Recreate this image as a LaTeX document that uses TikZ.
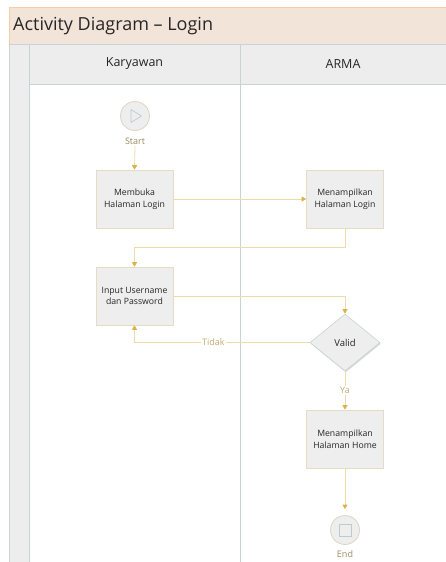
\documentclass[tikz,border=0pt]{standalone}
\usepackage{fontspec}
\setmainfont{Open Sans}
\usetikzlibrary{arrows.meta,shapes.geometric,shadows}

\definecolor{titlefill}{HTML}{F3E4DA}
\definecolor{titleline}{HTML}{F4CDA3}
\definecolor{headfill}{HTML}{EDEDED}
\definecolor{laneline}{HTML}{C9D3D3}
\definecolor{boxfill}{HTML}{EEEEEE}
\definecolor{boxline}{HTML}{E4DCC4}
\definecolor{flowline}{HTML}{EEDCA8}
\definecolor{flowtip}{HTML}{D8B44A}
\definecolor{labeltext}{HTML}{C2AC74}
\definecolor{eventline}{HTML}{DDD6C4}
\definecolor{eventsym}{HTML}{BCCBCE}
\definecolor{bodytext}{HTML}{262626}

\tikzset{
  actbox/.style={draw=boxline, fill=boxfill, line width=0.6pt,
    minimum width=77pt, minimum height=58pt, align=center,
    font=\fontsize{8.7}{11.5}\selectfont, text=bodytext,
    drop shadow={shadow xshift=0.8pt, shadow yshift=-1.4pt, opacity=0.35}},
  decision/.style={diamond, draw=laneline, fill=boxfill, line width=0.6pt,
    minimum width=70pt, minimum height=57pt, inner sep=0pt,
    font=\fontsize{9.5}{11}\selectfont, text=bodytext,
    drop shadow={shadow xshift=0.8pt, shadow yshift=-1.4pt, opacity=0.3}},
  event/.style={circle, draw=eventline, fill=boxfill, line width=0.8pt,
    minimum size=29pt, inner sep=0pt},
  evlabel/.style={font=\fontsize{9}{10}\selectfont, text=labeltext!80!black, inner sep=1pt},
  flow/.style={draw=flowline, line width=0.8pt,
    -{Triangle[width=5pt,length=4.5pt,color=flowtip]}},
  guard/.style={font=\fontsize{9}{10}\selectfont, text=labeltext, fill=white, inner sep=1pt},
  lanehead/.style={font=\fontsize{12.5}{14}\selectfont, text=bodytext},
}

\begin{document}
\begin{tikzpicture}[x=1pt,y=-1pt]
\useasboundingbox (0,0) rectangle (446,562);

% title bar
\fill[titlefill] (9,7) rectangle (448,44);
\draw[titleline, line width=0.8pt] (9.4,44) -- (9.4,7.4) -- (448,7.4);
\node[anchor=west, font=\fontsize{18}{21}\selectfont, text=bodytext, inner sep=0pt]
  (title) at (13,26) {Activity Diagram – Login};

% lane headers and side strip
\fill[headfill] (9,44) rectangle (448,84);
\fill[headfill] (9,84) rectangle (29,562);
\draw[laneline, line width=0.8pt] (9,44) -- (448,44);
\draw[laneline, line width=0.8pt] (9.5,44) -- (9.5,562);
\draw[laneline, line width=0.8pt] (29,44) -- (29,562);
\draw[laneline, line width=0.8pt] (29,84) -- (448,84);
\draw[laneline, line width=0.8pt] (240,44) -- (240,562);
\node[lanehead] (laneK) at (134.5,64) {Karyawan};
\node[lanehead] (laneA) at (343,64) {ARMA};

% start event
\node[event] (start) at (135,116) {};
\draw[eventsym, line width=0.7pt, line join=round]
  (131,109.5) -- (131,122.5) -- (141.5,116) -- cycle;
\node[evlabel] (startlbl) at (135,141.5) {Start};

% activities
\node[actbox] (membuka) at (134.5,199) {Membuka\\Halaman Login};
\node[actbox] (tampil)  at (345,199)   {Menampilkan\\Halaman Login};
\node[actbox] (input)   at (134.5,296) {Input Username\\dan Password};
\node[decision] (valid) at (345,342.5) {Valid};
\node[actbox] (home)    at (345,439)   {Menampilkan\\Halaman Home};

% end event
\node[event] (end) at (345,530) {};
\draw[eventsym, line width=0.7pt] (339,524) rectangle (351,536);
\node[evlabel] (endlbl) at (345,554) {End};

% control flow
\draw[flow] (startlbl.south) -- (membuka.north);
\draw[flow] (membuka.east) -- (tampil.west);
\draw[flow] (tampil.south) -- ++(0,19) -| (input.north);
\draw[flow] (input.east) -| (valid.north);
\draw[flow] (valid.west) -| node[guard, pos=0.275] {Tidak} (input.south);
\draw[flow] (valid.south) -- node[guard] {Ya} (home.north);
\draw[flow, shorten >=6pt] (home.south) -- (end.north);
\end{tikzpicture}
\end{document}
